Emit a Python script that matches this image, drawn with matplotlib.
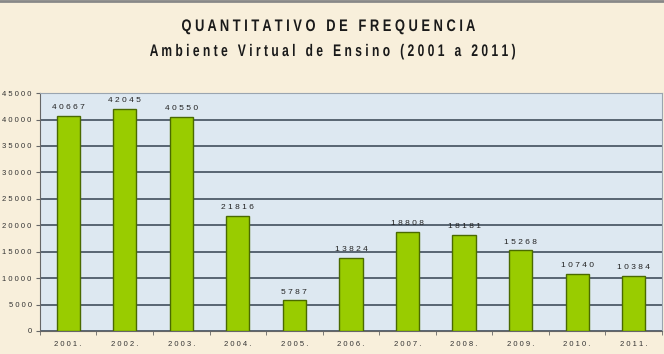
import matplotlib.pyplot as plt
import numpy as np
from matplotlib.textpath import TextPath
from matplotlib.patches import PathPatch
from matplotlib.font_manager import FontProperties
from matplotlib.transforms import Affine2D

years = ["2001", "2002", "2003", "2004", "2005", "2006", "2007", "2008", "2009", "2010", "2011"]
values = [40667, 42045, 40550, 21816, 5787, 13824, 18808, 18181, 15268, 10740, 10384]
y_ticks = [0, 5000, 10000, 15000, 20000, 25000, 30000, 35000, 40000, 45000]

title1 = "QUANTITATIVO DE FREQUENCIA"
title2 = "Ambiente Virtual de Ensino (2001 a 2011)"

plt.rcParams["font.family"] = ["Liberation Sans Narrow", "Liberation Sans", "DejaVu Sans"]


def spaced(s):
    # the original chart uses wide letter spacing everywhere
    return " ".join(s)


def spaced_words(s):
    return "   ".join(spaced(w) for w in s.split(" "))


def condensed_text(fig, s, cx, cy, cap_px, width_px):
    # draw text squeezed horizontally (the original uses a narrow font)
    fp = FontProperties(family="Liberation Sans", weight="bold")
    tp = TextPath((0, 0), s, size=100, prop=fp)
    ext = tp.get_extents()
    cap = 71.6
    tr = (Affine2D().translate(-ext.x0 - ext.width / 2, -cap / 2)
          .scale(width_px / ext.width, cap_px / cap).translate(cx, cy))
    fig.add_artist(PathPatch(tp, transform=tr, facecolor="#1a1a1a", edgecolor="none"))


fig = plt.figure(figsize=(6.64, 3.54), dpi=100)
fig.patch.set_facecolor("#f8efdb")
ax = fig.add_axes([0.060, 0.065, 0.937, 0.672])
ax.set_facecolor("#dde8f1")

x = np.arange(len(years))
bars = ax.bar(x, values, width=0.41, color="#99cc00", edgecolor="#4a6a00", linewidth=1.0, zorder=3)

for xi, v in zip(x, values):
    ax.text(xi, v + 900, spaced(str(v)), ha="center", va="bottom", fontsize=6,
            color="#222222", zorder=4)

ax.set_xlim(-0.5, len(years) - 0.5)
ax.set_ylim(0, 45000)
ax.set_yticks(y_ticks)
ax.set_yticklabels([spaced(str(t)) for t in y_ticks], fontsize=5.5, color="#333333")
ax.yaxis.grid(True, color="#4e5b68", linewidth=1.3, zorder=1)
ax.set_axisbelow(True)

ax.set_xticks(x)
ax.set_xticklabels([spaced(y) + " ." for y in years], fontsize=5.5, color="#333333")
ax.tick_params(axis="x", length=0, pad=7)
ax.tick_params(axis="y", length=3, color="#666666", pad=3)
# small ticks between categories
ax.set_xticks(np.arange(-0.5, len(years)), minor=True)
ax.tick_params(axis="x", which="minor", length=3, color="#666666")

for side in ["top", "right"]:
    ax.spines[side].set_color("#9aa5b0")
    ax.spines[side].set_linewidth(0.8)
ax.spines["left"].set_color("#666666")
ax.spines["bottom"].set_color("#666666")

# titles, pixel positions measured on the original picture
condensed_text(fig, spaced_words(title1), 328.5, 354 - 25, 12, 293)
condensed_text(fig, spaced_words(title2), 332.5, 354 - 50, 12, 365)

# thin gray band at the very top of the picture
fig.add_artist(plt.Line2D([0, 1], [0.997, 0.997], color="#888888", linewidth=2))

fig.savefig("out.png", dpi=100, facecolor=fig.get_facecolor())
